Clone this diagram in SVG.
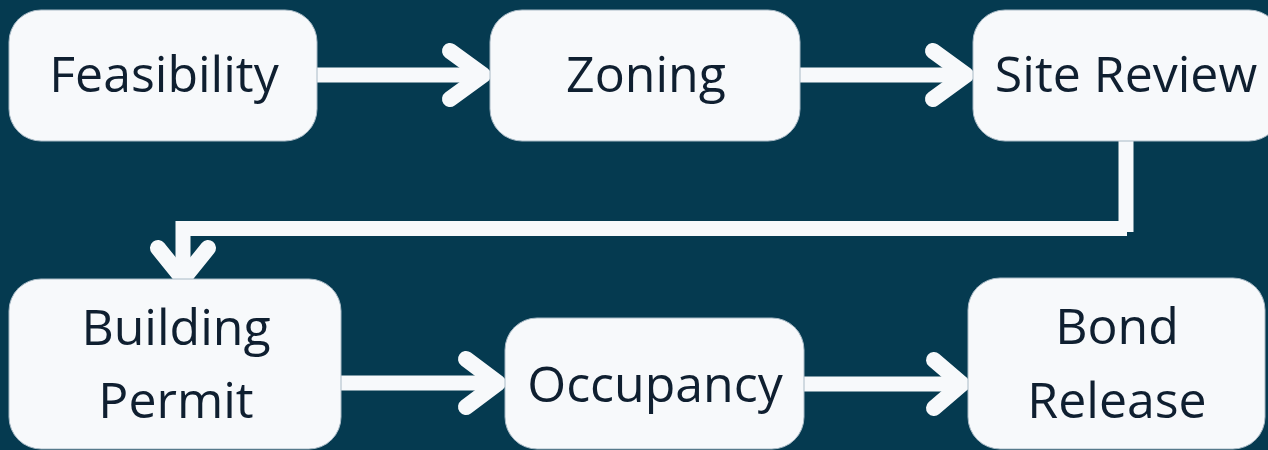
<svg xmlns="http://www.w3.org/2000/svg" width="1268" height="450" viewBox="0 0 1268 450">
  <style>
    .node rect { fill: #F7F9FB; stroke: #A9BAC6; stroke-width: 1; }
    .node text { font-family: "Open Sans", "Noto Sans", sans-serif; font-size: 50px; fill: #0F1F30; text-anchor: middle; }
    .edge { fill: none; stroke: #F7F9FB; stroke-width: 15; }
    .head { fill: none; stroke: #F7F9FB; stroke-width: 16; stroke-linecap: round; stroke-linejoin: round; }
  </style>
  <rect width="1268" height="450" fill="#053A50"/>

  <g id="connectors">
    <!-- Feasibility to Zoning -->
    <path class="edge" d="M317,75 H484"/>
    <path class="head" d="M450,51 L483,75 L450,99"/>
    <!-- Zoning to Site Review -->
    <path class="edge" d="M800,75 H967"/>
    <path class="head" d="M933,51 L966,75 L933,99"/>
    <!-- Site Review down and back to Building Permit -->
    <path class="edge" d="M1126,141 V232"/>
    <path class="edge" stroke-linejoin="miter" d="M1127,228.5 H183 V280"/>
    <path class="head" d="M158,248 L183,279 L208,248"/>
    <!-- Building Permit to Occupancy -->
    <path class="edge" d="M341,383 H500"/>
    <path class="head" d="M466,359 L498,383 L466,407"/>
    <!-- Occupancy to Bond Release -->
    <path class="edge" d="M804,384 H962"/>
    <path class="head" d="M934,360 L962,384 L934,408"/>
  </g>

  <g id="feasibility" class="node">
    <rect x="9" y="10" width="308" height="131" rx="32"/>
    <text x="164" y="92">Feasibility</text>
  </g>
  <g id="zoning" class="node">
    <rect x="490" y="10" width="310" height="131" rx="32"/>
    <text x="646" y="92">Zoning</text>
  </g>
  <g id="site-review" class="node">
    <rect x="973" y="10" width="308" height="131" rx="32"/>
    <text x="1126" y="92">Site Review</text>
  </g>
  <g id="building-permit" class="node">
    <rect x="9" y="279" width="332" height="170" rx="32"/>
    <text x="176" y="345">Building</text>
    <text x="176" y="418">Permit</text>
  </g>
  <g id="occupancy" class="node">
    <rect x="505" y="318" width="299" height="131" rx="32"/>
    <text x="655" y="402">Occupancy</text>
  </g>
  <g id="bond-release" class="node">
    <rect x="968" y="278" width="297" height="171" rx="32"/>
    <text x="1117" y="344">Bond</text>
    <text x="1117" y="418">Release</text>
  </g>
</svg>
